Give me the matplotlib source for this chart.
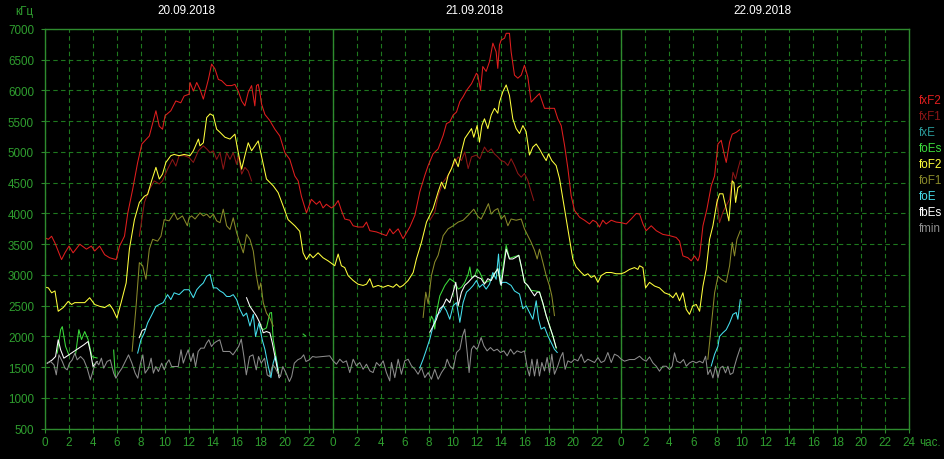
import numpy as np
import matplotlib
matplotlib.use("Agg")
import matplotlib.pyplot as plt

# --- данные: (час от начала 20.09, кГц); None = разрыв ---
fxf2 = [(0.05, 3600), (0.28, 3580), (0.55, 3630), (0.83, 3520), (1.38, 3250), (1.66, 3360),
        (2.0, 3470), (2.34, 3360), (2.9, 3500), (3.45, 3420), (3.86, 3470), (4.14, 3390),
        (4.55, 3470), (4.97, 3330), (5.38, 3280), (5.93, 3250), (6.21, 3470), (6.62, 3630),
        (6.9, 4010), (7.3, 4390), (7.72, 4830), (8.07, 5130), (8.69, 5260), (9.24, 5670),
        (9.52, 5420), (9.79, 5370), (10.0, 5590), (10.48, 5670), (10.9, 5830), (11.31, 5800),
        (11.59, 5910), (12.0, 5940), (12.08, 6130), (12.36, 5990), (12.64, 6130), (12.91, 6020),
        (13.19, 5860), (13.61, 6180), (13.88, 6430), (14.16, 6350), (14.44, 6180), (14.71, 6160),
        (15.13, 6080), (15.55, 6080), (15.82, 6100), (16.1, 5990), (16.38, 5830), (16.65, 5750),
        (16.93, 5970), (17.21, 6080), (17.48, 5750), (17.62, 6080), (17.76, 6100), (17.9, 5970),
        (18.04, 5780), (18.32, 5610), (18.73, 5510), (19.15, 5370), (19.56, 5260), (19.98, 4990),
        (20.39, 4880), (20.81, 4610), (21.09, 4530), (21.36, 4280), (21.78, 4010), (22.19, 4230),
        (22.61, 4150), (22.89, 4200), (23.16, 4090), (23.44, 4150), (23.86, 4090),
        (24.14, 4130), (24.42, 4210), (24.69, 4050), (24.97, 3910), (25.39, 3890), (25.67, 3800),
        (26.08, 3780), (26.5, 3780), (26.78, 3860), (27.06, 3720), (27.61, 3700), (28.03, 3670),
        (28.44, 3640), (28.72, 3750), (29.0, 3670), (29.42, 3750), (29.83, 3590), (30.39, 3780),
        (30.81, 3970), (31.22, 4350), (31.64, 4620), (31.92, 4780), (32.33, 4970), (32.75, 5050),
        (33.17, 5270), (33.44, 5460), (33.72, 5490), (34.0, 5600), (34.28, 5650), (34.56, 5820),
        (34.83, 5900), (35.11, 6000), (35.53, 6110), (35.94, 6280), (36.06, 6250), (36.28, 6000),
        (36.47, 6390), (36.75, 6310), (37.03, 6470), (37.31, 6770), (37.58, 6630), (37.72, 6360),
        (37.86, 6740), (38.0, 6820), (38.28, 6850), (38.42, 6930), (38.69, 6930), (38.83, 6630),
        (39.11, 6250), (39.39, 6200), (39.67, 6250), (39.94, 6410), (40.22, 6220), (40.5, 5810),
        (40.78, 5870), (41.19, 5950), (41.61, 5710), (42.03, 5710), (42.44, 5710), (42.72, 5540),
        (43.0, 5430), (43.28, 5110), (43.56, 4730), (43.83, 4290), (44.11, 4050), (44.53, 3940),
        (44.94, 3890), (45.36, 3830), (45.64, 3890), (45.92, 3860), (46.19, 3780), (46.47, 3890),
        (46.75, 3830), (47.17, 3890), (47.58, 3860), (48.0, 3850),
        (48.42, 3830), (48.83, 3910), (49.25, 4000), (49.53, 3990), (49.81, 3830), (50.08, 3720),
        (50.5, 3800), (50.92, 3720), (51.47, 3660), (52.03, 3640), (52.58, 3610), (52.86, 3550),
        (53.14, 3310), (53.56, 3280), (53.83, 3230), (54.11, 3310), (54.39, 3230), (54.53, 3310),
        (54.81, 3800), (55.14, 4070), (55.5, 4450), (55.78, 4610), (56.06, 5130), (56.33, 5190),
        (56.61, 4940), (56.75, 4830), (57.03, 5160), (57.25, 5290), (57.58, 5320), (57.86, 5360)]

fxf1 = [(7.86, 3630), (8.28, 4180), (8.69, 4390), (9.1, 4530), (9.52, 4480), (9.79, 4530),
        (10.21, 4720), (10.62, 4880), (10.9, 4770), (11.17, 4940), (11.59, 4940), (12.0, 4910),
        (12.36, 4830), (12.78, 5020), (13.19, 5100), (13.47, 5050), (13.75, 4990), (14.02, 5020),
        (14.3, 4880), (14.58, 4990), (14.85, 4720), (15.13, 4990), (15.41, 4880), (15.68, 4990),
        (15.96, 4800), (16.1, 4940), (16.38, 4640), (16.65, 4750), (16.93, 4690), (17.21, 4530),
        None,
        (32.06, 3890), (32.47, 4020), (32.75, 4290), (33.17, 4510), (33.58, 4620), (34.0, 4780),
        (34.42, 4920), (34.69, 4860), (34.97, 5000), (35.25, 4730), (35.53, 4920), (35.94, 4950),
        (36.22, 4890), (36.61, 5080), (36.89, 5000), (37.17, 5050), (37.44, 4970), (37.72, 4920),
        (38.0, 4860), (38.28, 4840), (38.56, 4780), (38.83, 4890), (39.11, 4780), (39.39, 4650),
        (39.67, 4590), (39.94, 4650), (40.22, 4540), (40.5, 4350), (40.72, 4210),
        None,
        (55.97, 4230), (56.19, 3850), (56.47, 4020), (56.75, 4130), (57.03, 4230), (57.31, 4670),
        (57.53, 4560), (57.72, 4720), (57.92, 4860)]

fxe = []

foes = [(1.02, 1730), (1.3, 2110), (1.44, 2160), (1.71, 1840), (1.99, 1700),
        None,
        (2.54, 1700), (2.82, 2110), (3.04, 1950), (3.31, 2080), (3.59, 1950), (3.92, 1670),
        (4.34, 1650),
        None,
        (5.72, 1780), (5.86, 1350),
        None,
        (17.9, 2170), (18.18, 2110), (18.45, 2140), (18.73, 2380), (18.87, 2390), (19.01, 1950),
        (19.29, 1620), (19.48, 1380),
        None,
        (21.5, 2040), (21.7, 2010),
        None,
        (32.06, 2230), (32.19, 2330), (32.33, 2280), (32.47, 2120), (32.61, 2390), (32.89, 2660),
        (33.31, 2830), (33.72, 2940), (34.14, 2880), (34.42, 2770), (34.69, 2800), (34.97, 2880),
        (35.25, 3010), (35.39, 3130), (35.53, 2960), (35.81, 2990), (36.0, 3100), (36.22, 3040),
        (36.61, 2870), (37.17, 2920), (37.72, 3110), (37.94, 2850), (38.42, 3480), (38.69, 3270),
        (39.47, 3320), (39.94, 2890), (40.5, 2750), (41.19, 2730), (41.75, 2340), (42.03, 2180),
        (42.31, 2000), (42.6, 1800)]

fof2 = [(0.05, 2800), (0.28, 2790), (0.55, 2710), (0.83, 2740), (1.1, 2410), (1.52, 2470),
        (1.93, 2570), (2.21, 2520), (2.48, 2550), (2.9, 2550), (3.31, 2550), (3.72, 2630),
        (4.14, 2520), (4.55, 2490), (4.97, 2470), (5.38, 2520), (5.66, 2440), (5.99, 2300),
        (6.34, 2550), (6.76, 2870), (7.03, 3420), (7.45, 3900), (7.86, 4180), (8.28, 4280),
        (8.55, 4310), (8.83, 4500), (9.24, 4750), (9.52, 4560), (9.79, 4640), (10.07, 4830),
        (10.48, 4940), (10.76, 4960), (11.17, 4940), (11.59, 4960), (12.08, 4940), (12.36, 5020),
        (12.78, 5210), (12.91, 5100), (13.19, 5150), (13.47, 5560), (13.75, 5620), (14.02, 5590),
        (14.3, 5370), (14.58, 5320), (14.99, 5240), (15.41, 5210), (15.82, 5290), (16.04, 5050),
        (16.38, 4720), (16.65, 4940), (16.93, 5150), (17.21, 5020), (17.48, 5100), (17.76, 5180),
        (18.09, 4880), (18.45, 4560), (19.01, 4450), (19.42, 4340), (19.84, 4120), (20.25, 3900),
        (20.81, 3800), (21.22, 3710), (21.5, 3360), (21.78, 3250), (22.06, 3340), (22.33, 3280),
        (22.75, 3360), (23.16, 3280), (23.58, 3230), (24.14, 3150), (24.42, 3340), (24.69, 3150),
        (24.97, 3120), (25.25, 2990), (25.67, 2910), (26.08, 2850), (26.5, 2830), (26.78, 2850),
        (27.06, 2940), (27.33, 2800), (27.75, 2830), (28.17, 2800), (28.58, 2830), (29.0, 2800),
        (29.28, 2850), (29.56, 2800), (29.83, 2830), (30.25, 2910), (30.67, 3040), (30.94, 3260),
        (31.36, 3530), (31.78, 3860), (32.06, 3970), (32.33, 4080), (32.75, 4350), (33.03, 4510),
        (33.31, 4400), (33.58, 4620), (33.86, 4730), (34.14, 4890), (34.42, 4760), (34.69, 5000),
        (34.97, 5220), (35.25, 5300), (35.53, 5380), (35.72, 5240), (36.0, 5430), (36.19, 5160),
        (36.39, 5430), (36.61, 5540), (36.89, 5380), (37.17, 5600), (37.44, 5710), (37.72, 5630),
        (37.86, 5810), (38.14, 5980), (38.42, 6090), (38.69, 5920), (38.97, 5540), (39.25, 5380),
        (39.53, 5300), (39.81, 5430), (40.08, 5330), (40.36, 4950), (40.64, 5080), (40.92, 5130),
        (41.19, 5050), (41.47, 4950), (41.75, 4860), (41.94, 4970), (42.22, 4860), (42.58, 4780),
        (42.86, 4570), (43.14, 4240), (43.42, 3910), (43.69, 3590), (43.97, 3260), (44.25, 3130),
        (44.67, 3040), (44.94, 2990), (45.22, 3020), (45.5, 2960), (45.78, 2990), (46.06, 2880),
        (46.33, 2990), (46.75, 3040), (47.17, 3040), (47.58, 3020), (48.0, 3020), (48.28, 3040),
        (48.69, 3090), (49.11, 3120), (49.39, 3090), (49.53, 3150), (49.81, 3120), (50.03, 2790),
        (50.36, 2880), (50.78, 2820), (51.19, 2790), (51.61, 2710), (52.03, 2680), (52.31, 2630),
        (52.58, 2710), (52.86, 2580), (53.14, 2710), (53.42, 2440), (53.69, 2360), (53.97, 2500),
        (54.25, 2520), (54.53, 2410), (54.81, 2820), (55.08, 3090), (55.36, 3580), (55.64, 3800),
        (55.97, 4180), (56.19, 4320), (56.47, 4320), (56.75, 4070), (56.97, 3880), (57.25, 4530),
        (57.39, 4500), (57.53, 4180), (57.72, 4420), (57.92, 4450)]

fof1 = [(7.26, 1760), (7.59, 2500), (7.86, 3200), (8.14, 3150), (8.41, 2930), (8.69, 3420),
        (8.97, 3580), (9.38, 3550), (9.66, 3630), (9.93, 3900), (10.34, 3880), (10.76, 4010),
        (11.03, 3900), (11.45, 3960), (11.86, 3800), (12.0, 3930), (12.22, 3960), (12.5, 3910),
        (12.91, 4010), (13.19, 3960), (13.47, 3990), (13.75, 3930), (14.02, 3990), (14.3, 3880),
        (14.58, 3850), (14.85, 4070), (15.13, 3800), (15.41, 3740), (15.68, 3930), (15.96, 3690),
        (16.24, 3520), (16.52, 3360), (16.79, 3660), (17.07, 3580), (17.35, 3390), (17.62, 2980),
        (17.82, 2760), (17.98, 2870), (18.18, 2550), (18.45, 2380), (18.73, 2300), (19.01, 2170),
        None,
        (31.5, 2310), (31.72, 2720), (31.92, 2530), (32.19, 2990), (32.47, 3210), (32.75, 3320),
        (33.17, 3640), (33.58, 3750), (34.0, 3800), (34.42, 3860), (34.83, 3890), (35.25, 3970),
        (35.72, 4070), (36.06, 3950), (36.33, 3910), (36.61, 4020), (36.94, 4160), (37.17, 3990),
        (37.44, 4050), (37.72, 4080), (38.0, 3910), (38.28, 3970), (38.56, 3800), (38.83, 3910),
        (39.25, 3890), (39.67, 3910), (39.94, 3750), (40.22, 3640), (40.5, 3530), (40.78, 3400),
        (41.0, 3260), (41.19, 3420), (41.47, 3210), (41.75, 2990), (42.03, 2820), (42.22, 2660),
        (42.44, 2340),
        None,
        (55.22, 1630), (55.5, 2170), (55.78, 2710), (56.06, 2980), (56.33, 2930), (56.75, 2880),
        (57.03, 3150), (57.25, 3530), (57.44, 3310), (57.64, 3580), (57.92, 3720)]

foe = [(7.72, 1730), (8.0, 1950), (8.28, 2060), (8.55, 2220), (8.97, 2380), (9.24, 2490),
       (9.52, 2520), (9.85, 2550), (10.21, 2680), (10.48, 2600), (10.76, 2710), (11.17, 2680),
       (11.59, 2760), (12.0, 2760), (12.36, 2630), (12.64, 2760), (12.91, 2820), (13.19, 2870),
       (13.47, 2980), (13.75, 3010), (14.02, 2790), (14.3, 2790), (14.58, 2740), (14.85, 2710),
       (15.13, 2650), (15.41, 2650), (15.68, 2680), (15.96, 2600), (16.24, 2440), (16.52, 2330),
       (16.79, 2380), (17.07, 2170), (17.35, 2360), (17.54, 2000), (17.82, 2220), (18.09, 1950),
       (18.32, 1790), (18.59, 1520), (18.82, 1330), (19.01, 1570), (19.2, 1680), (19.42, 1460),
       None,
       (31.22, 1490), (31.5, 1630), (31.78, 1790), (32.06, 1960), (32.33, 2170), (32.61, 2340),
       (32.89, 2390), (33.17, 2500), (33.44, 2420), (33.72, 2280), (34.0, 2500), (34.28, 2550),
       (34.56, 2230), (34.83, 2550), (35.11, 2720), (35.39, 2770), (35.67, 2830), (35.94, 2910),
       (36.19, 2800), (36.47, 2850), (36.75, 2770), (37.03, 2850), (37.31, 3040), (37.58, 2930),
       (37.78, 3340), (37.94, 2850), (38.14, 2880), (38.42, 2880), (38.83, 2830), (39.11, 2740),
       (39.53, 2690), (39.81, 2450), (40.08, 2500), (40.36, 2390), (40.64, 2280), (40.92, 2580),
       (41.11, 2280), (41.33, 2120), (41.61, 2150), (41.89, 2010), (42.17, 1900), (42.44, 1790),
       (42.67, 1740),
       None,
       (55.5, 1520), (55.78, 1710), (56.06, 1840), (56.19, 2000), (56.47, 2060), (56.75, 2110),
       (57.03, 2220), (57.31, 2360), (57.58, 2390), (57.72, 2280), (57.92, 2600)]

fbes = [(0.19, 1565), (0.61, 1620), (0.88, 1674), (1.1, 1946), (1.3, 1783), (1.57, 1647),
        (1.99, 1701), (2.4, 1756), (2.82, 1810), (3.23, 1864), (3.59, 1918), (3.78, 1750),
        (4.0, 1511), (4.34, 1593),
        None,
        (7.85, 1980), (8.1, 2100), (8.35, 2120),
        None,
        (16.79, 2630), (17.07, 2490), (17.35, 2410), (17.62, 2330), (17.9, 2220), (18.18, 2060),
        (18.45, 2080), (18.73, 2060), (18.93, 1900), (19.15, 1680), (19.37, 1460), (19.51, 1330),
        None,
        (32.06, 2070), (32.33, 2170), (32.61, 2280), (32.89, 2450), (33.17, 2500), (33.44, 2610),
        (33.72, 2550), (34.0, 2720), (34.22, 2880), (34.42, 2500), (34.69, 2720), (34.97, 2830),
        (35.25, 2880), (35.53, 2940), (35.81, 2990), (36.06, 2960), (36.33, 2940), (36.61, 2850),
        (36.89, 2940), (37.17, 2910), (37.44, 3020), (37.72, 3100), (38.0, 2830), (38.22, 3130),
        (38.42, 3420), (38.69, 3260), (38.97, 3260), (39.25, 3290), (39.47, 3320), (39.67, 3150),
        (39.94, 2880), (40.22, 2830), (40.5, 2740), (40.78, 2660), (41.0, 2720), (41.19, 2720),
        (41.47, 2550), (41.75, 2340), (42.03, 2170), (42.31, 2010), (42.58, 1820)]

fmin = [(0.19, 1566), (0.47, 1593), (0.75, 1538), (0.94, 1376), (1.16, 1701), (1.44, 1593),
        (1.66, 1484), (1.85, 1457), (2.04, 1566), (2.27, 1620), (2.49, 1728), (2.68, 1620),
        (2.96, 1674), (3.23, 1620), (3.51, 1484), (3.78, 1294), (4.06, 1484), (4.28, 1593),
        (4.48, 1538), (4.7, 1647), (4.89, 1484), (5.17, 1593), (5.44, 1620), (5.72, 1403),
        (5.91, 1321), (6.13, 1403), (6.41, 1484), (6.69, 1593), (6.96, 1701), (7.24, 1566),
        (7.51, 1403), (7.73, 1321), (7.93, 1538), (8.15, 1701), (8.34, 1403), (8.62, 1484),
        (8.84, 1647), (9.03, 1403), (9.23, 1511), (9.45, 1430), (9.72, 1566), (9.94, 1457),
        (10.14, 1566), (10.33, 1620), (10.55, 1511), (10.83, 1511), (11.1, 1511), (11.33, 1783),
        (11.52, 1566), (11.71, 1674), (11.93, 1783), (12.15, 1593), (12.35, 1728), (12.54, 1511),
        (12.76, 1756), (12.98, 1810), (13.26, 1810), (13.45, 1891), (13.65, 1946), (13.87, 1837),
        (14.09, 1891), (14.28, 1918), (14.56, 1946), (14.83, 1756), (15.11, 1756), (15.39, 1756),
        (15.66, 1701), (15.94, 1783), (16.13, 1837), (16.35, 1957), (16.57, 1674), (16.77, 1376),
        (17.04, 1674), (17.32, 1701), (17.6, 1457), (17.79, 1674), (18.01, 1566), (18.29, 1647),
        (18.51, 1376), (18.7, 1348), (18.98, 1538), (19.2, 1484), (19.39, 1403), (19.61, 1348),
        (19.81, 1511), (20.08, 1403), (20.36, 1267), (20.55, 1348), (20.77, 1566), (21.05, 1620),
        (21.33, 1647), (21.55, 1701), (21.74, 1593), (22.02, 1620), (22.29, 1674), (22.57, 1663),
        (23.72, 1685), (24.0, 1603), (24.28, 1549), (24.56, 1630), (24.83, 1576), (25.11, 1603),
        (25.39, 1413), (25.67, 1630), (25.94, 1522), (26.22, 1576), (26.5, 1467), (26.78, 1549),
        (27.06, 1440), (27.33, 1413), (27.61, 1576), (27.89, 1522), (28.17, 1603), (28.44, 1413),
        (28.72, 1277), (28.86, 1576), (29.14, 1331), (29.42, 1630), (29.69, 1386), (29.97, 1603),
        (30.25, 1630), (30.53, 1522), (30.81, 1467), (31.08, 1386), (31.36, 1494), (31.64, 1331),
        (31.92, 1413), (32.19, 1304), (32.47, 1467), (32.75, 1304), (33.03, 1413), (33.31, 1494),
        (33.5, 1630), (33.72, 1522), (34.0, 1467), (34.28, 1739), (34.56, 1793), (34.78, 2011),
        (34.97, 2119), (35.17, 1739), (35.33, 1413), (35.53, 1793), (35.72, 1848), (35.94, 1793),
        (36.06, 1820), (36.33, 1983), (36.56, 1848), (36.83, 1766), (37.11, 1820), (37.39, 1766),
        (37.67, 1793), (37.94, 1739), (38.22, 1766), (38.5, 1685), (38.78, 1793), (39.06, 1712),
        (39.33, 1766), (39.67, 1739), (39.94, 1766), (40.17, 1494), (40.36, 1358), (40.56, 1630),
        (40.78, 1358), (41.0, 1630), (41.19, 1358), (41.39, 1576), (41.61, 1440), (41.83, 1658),
        (42.03, 1413), (42.22, 1712), (42.44, 1386), (42.72, 1522), (42.94, 1658), (43.14, 1739),
        (43.33, 1467), (43.56, 1603), (43.83, 1576), (44.11, 1630), (44.39, 1603), (44.67, 1712),
        (44.94, 1576), (45.22, 1630), (45.5, 1603), (45.78, 1576), (46.06, 1658), (46.33, 1576),
        (46.61, 1603), (46.89, 1739), (47.17, 1576), (47.44, 1712), (47.72, 1685), (48.0, 1630),
        (48.28, 1598), (48.69, 1625), (49.11, 1625), (49.53, 1679), (49.81, 1625), (50.08, 1598),
        (50.36, 1668), (50.64, 1570), (50.92, 1516), (51.19, 1435), (51.47, 1516), (51.75, 1516),
        (52.03, 1462), (52.25, 1516), (52.44, 1734), (52.64, 1598), (52.92, 1570), (53.19, 1625),
        (53.42, 1516), (53.69, 1570), (53.97, 1598), (54.25, 1570), (54.53, 1598), (54.81, 1570),
        (55.03, 1679), (55.22, 1381), (55.42, 1462), (55.64, 1326), (55.86, 1516), (56.06, 1326),
        (56.25, 1489), (56.47, 1516), (56.69, 1408), (56.89, 1516), (57.08, 1381), (57.31, 1408),
        (57.44, 1516), (57.64, 1652), (57.92, 1815)]

series_names = ["fxF2", "fxF1", "fxE", "foEs", "foF2", "foF1", "foE", "fbEs", "fmin"]
series_data = [fxf2, fxf1, fxe, foes, fof2, fof1, foe, fbes, fmin]
series_colors = ["#e01e1e", "#8c1616", "#2a9a9a", "#3cdc3c", "#ffff3c",
                 "#8a8a2a", "#46e0ee", "#ffffff", "#8c8c8c"]

dates = ["20.09.2018", "21.09.2018", "22.09.2018"]
x_ticks = np.arange(0, 73, 2)
x_labels = [str(t % 24) for t in x_ticks[:-1]] + ["24"]
y_ticks = np.arange(500, 7001, 500)

FRAME = "#2e8b2e"
GRID = "#1e781e"
LABEL = "#2f9e2f"
FONT = ["Liberation Sans", "DejaVu Sans"]


def to_xy(points):
    xs, ys = [], []
    for p in points:
        if p is None:
            xs.append(np.nan)
            ys.append(np.nan)
        else:
            xs.append(p[0])
            ys.append(p[1])
    return np.array(xs, float), np.array(ys, float)


W, H = 944, 460
fig = plt.figure(figsize=(W / 100, H / 100), dpi=100)
fig.patch.set_facecolor("black")
left, right, top, bottom = 45, 909.3, 30, 429.7
ax = fig.add_axes([left / W, 1 - bottom / H, (right - left) / W, (bottom - top) / H])
ax.set_facecolor("black")
ax.set_xlim(0, 72)
ax.set_ylim(500, 7000)

for s in ax.spines.values():
    s.set_color(FRAME)
    s.set_linewidth(1.0)

ax.set_xticks(x_ticks)
ax.set_xticklabels(x_labels)
ax.set_yticks(y_ticks)
ax.tick_params(colors=FRAME, labelcolor=LABEL, labelsize=8.4, length=3, width=0.8)
ax.tick_params(axis="y", pad=5)
ax.tick_params(axis="x", pad=2)
for lab in ax.get_xticklabels() + ax.get_yticklabels():
    lab.set_family(FONT)

ax.grid(True, color=GRID, linestyle=(0, (4, 3)), linewidth=0.8)
ax.set_axisbelow(True)
for d in (24, 48):
    ax.axvline(d, color=FRAME, linewidth=1.0, zorder=1.5)

# кривые
for i, (name, pts, col) in enumerate(zip(series_names, series_data, series_colors)):
    if not pts:
        continue
    x, y = to_xy(pts)
    ax.plot(x, y, color=col, linewidth=0.75, zorder=2 + i * 0.1)

# подписи
for i, d in enumerate(dates):
    xf = (left + (24 * i + 11.8) * (right - left) / 72) / W
    fig.text(xf, 1 - 11.5 / H, d, color="white", ha="center", va="center",
             fontsize=8.4, family=FONT)
fig.text(24 / W, 1 - 12.5 / H, "кГц", color=LABEL, ha="center", va="center",
         fontsize=8.4, family=FONT)
fig.text(919 / W, 1 - 443 / H, "час.", color=LABEL, ha="left", va="center",
         fontsize=8.4, family=FONT)

# легенда справа
for i, (name, col) in enumerate(zip(series_names, series_colors)):
    fig.text(919 / W, 1 - (101 + 16 * i) / H, name, color=col, ha="left", va="center",
             fontsize=8.4, family=FONT)

fig.savefig("out.png", dpi=100, facecolor="black")
